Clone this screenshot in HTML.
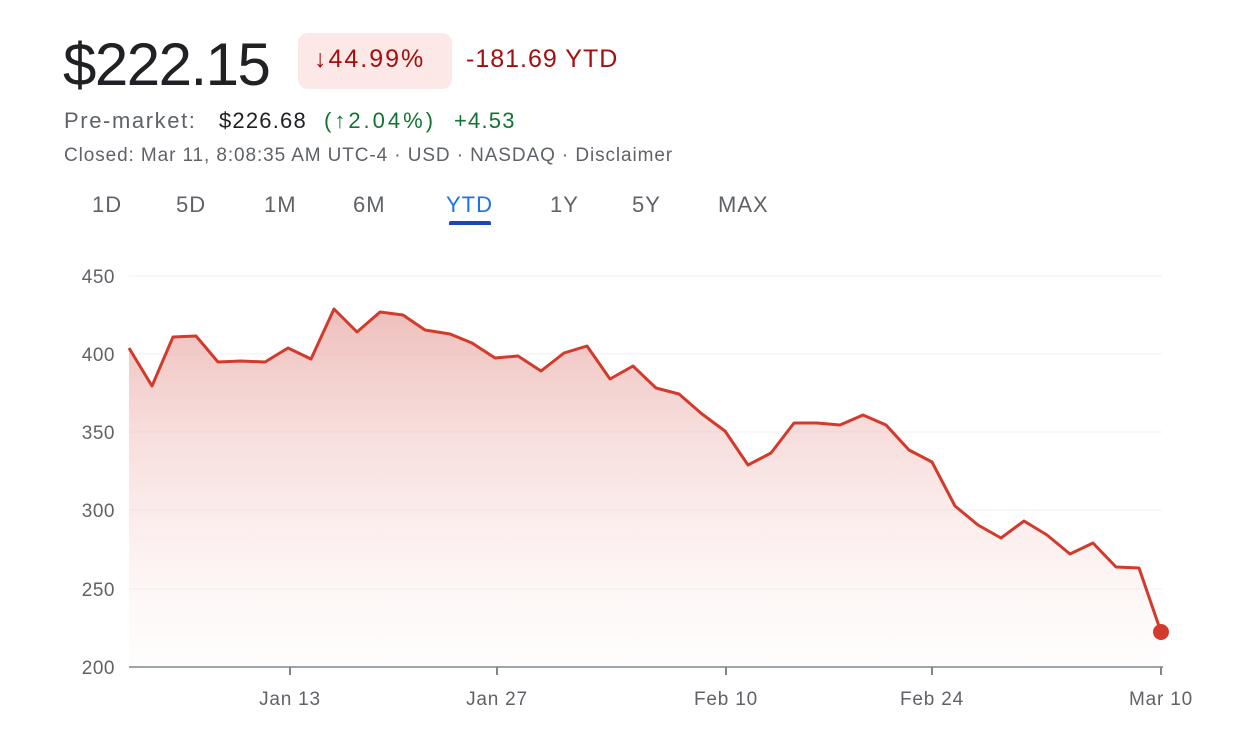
<!DOCTYPE html>
<html><head><style>
body{margin:0;background:#fff;font-family:"Liberation Sans",Arial,sans-serif;width:1239px;height:740px;overflow:hidden;position:relative}
.a{position:absolute;white-space:nowrap}
</style></head><body>
<div class="a" style="left:63px;top:30px;font-size:60px;color:#202124;letter-spacing:-1.5px">$222.15</div>
<div class="a" style="left:298px;top:33px;width:154px;height:56px;background:#fce8e6;border-radius:10px"></div>
<div class="a" style="left:314px;top:45px;font-size:25px;color:#a50e0e;letter-spacing:2px">↓44.99%</div>
<div class="a" style="left:466px;top:45px;font-size:25px;color:#a50e0e;letter-spacing:1px">-181.69 YTD</div>
<div class="a" style="left:64px;top:108px;font-size:22px;color:#5f6368;letter-spacing:1.6px">Pre-market:</div>
<div class="a" style="left:219px;top:108px;font-size:22px;color:#202124;letter-spacing:1.2px">$226.68</div>
<div class="a" style="left:324px;top:108px;font-size:22px;color:#137333;letter-spacing:3px">(↑2.04%)</div>
<div class="a" style="left:454px;top:108px;font-size:22px;color:#137333;letter-spacing:1.2px">+4.53</div>
<div class="a" style="left:64px;top:145px;font-size:19px;color:#5f6368;letter-spacing:0.9px">Closed: Mar 11, 8:08:35 AM UTC-4 · USD · NASDAQ · Disclaimer</div>
<div class="a" style="top:192px;left:0;font-size:22px;color:#5f6368;letter-spacing:1px">
<span class="a" style="left:92px">1D</span><span class="a" style="left:176px">5D</span><span class="a" style="left:264px">1M</span><span class="a" style="left:353px">6M</span><span class="a" style="left:446px;color:#1a73e8">YTD</span><span class="a" style="left:550px">1Y</span><span class="a" style="left:632px">5Y</span><span class="a" style="left:718px">MAX</span></div>
<div class="a" style="left:449px;top:221px;width:42px;height:4px;background:#1a47b8;border-radius:2px 2px 0 0"></div>
<svg class="a" style="left:0;top:0" width="1239" height="740">
<defs><linearGradient id="g" x1="0" y1="0" x2="0" y2="1"><stop offset="0" stop-color="#e8a9a5" stop-opacity="0.75"/><stop offset="1" stop-color="#fce8e6" stop-opacity="0.1"/></linearGradient></defs>
<g stroke="#f1f1f1" stroke-width="1"><line x1="129" x2="1162" y1="276" y2="276"/><line x1="129" x2="1162" y1="354" y2="354"/><line x1="129" x2="1162" y1="432" y2="432"/><line x1="129" x2="1162" y1="510" y2="510"/><line x1="129" x2="1162" y1="589" y2="589"/></g>
<g font-size="19" fill="#5f6368" text-anchor="end" letter-spacing="0.5"><text x="115" y="283">450</text><text x="115" y="361">400</text><text x="115" y="439">350</text><text x="115" y="517">300</text><text x="115" y="596">250</text><text x="115" y="674">200</text></g>
<polygon fill="url(#g)" points="129,667 129,348 152,386 173,337 196,336 218,362 241,361 265,362 288,348 311,359 334,309 357,332 380,312 403,315 425,330 450,334 472,343 495,358 518,356 541,371 564,353 587,346 610,379 633,366 656,388 679,394 702,414 725,431 748,465 771,453 794,423 817,423 840,425 863,415 886,425 909,450 932,462 955,506 978,525 1001,538 1024,521 1047,535 1070,554 1093,543 1116,567 1139,568 1161,632 1161,667"/>
<polyline fill="none" stroke="#d33a2c" stroke-width="3" stroke-linejoin="round" points="129,348 152,386 173,337 196,336 218,362 241,361 265,362 288,348 311,359 334,309 357,332 380,312 403,315 425,330 450,334 472,343 495,358 518,356 541,371 564,353 587,346 610,379 633,366 656,388 679,394 702,414 725,431 748,465 771,453 794,423 817,423 840,425 863,415 886,425 909,450 932,462 955,506 978,525 1001,538 1024,521 1047,535 1070,554 1093,543 1116,567 1139,568 1161,632"/>
<circle cx="1161" cy="632" r="8" fill="#d33a2c"/>
<line x1="129" x2="1163" y1="667" y2="667" stroke="#80868b" stroke-width="1.5"/>
<g stroke="#80868b" stroke-width="2"><line x1="290" x2="290" y1="667" y2="675"/><line x1="497" x2="497" y1="667" y2="675"/><line x1="726" x2="726" y1="667" y2="675"/><line x1="932" x2="932" y1="667" y2="675"/><line x1="1161" x2="1161" y1="667" y2="675"/></g>
<g font-size="19" fill="#5f6368" text-anchor="middle" letter-spacing="0.8"><text x="290" y="705">Jan 13</text><text x="497" y="705">Jan 27</text><text x="726" y="705">Feb 10</text><text x="932" y="705">Feb 24</text><text x="1161" y="705">Mar 10</text></g>
</svg>
</body></html>
